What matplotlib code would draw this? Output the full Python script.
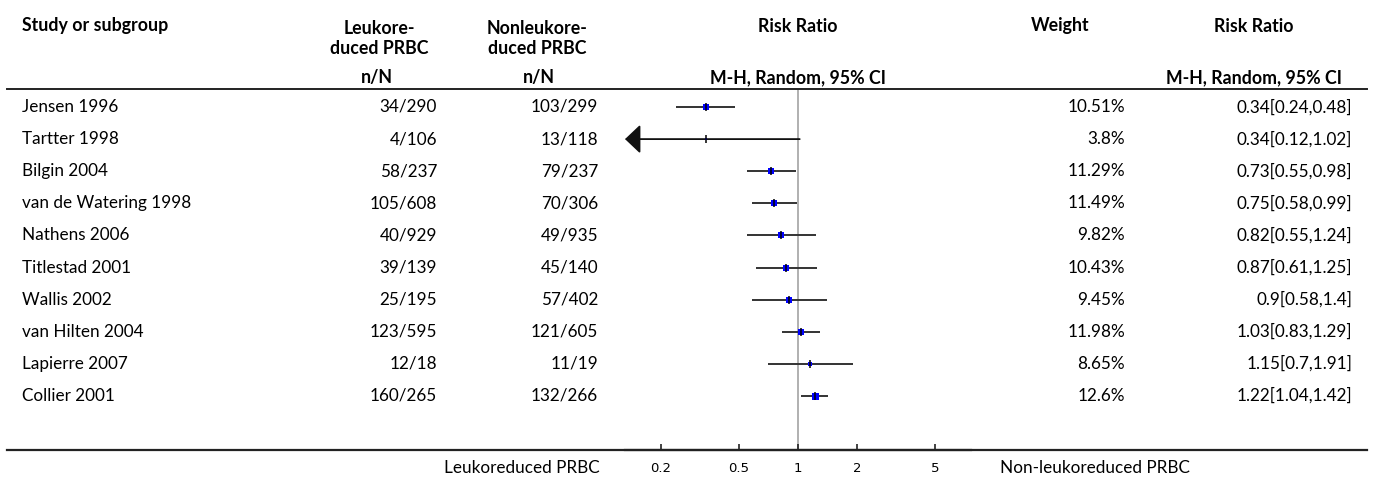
import numpy as np
import matplotlib.pyplot as plt
import matplotlib.transforms as mtransforms
from matplotlib.lines import Line2D
from matplotlib.patches import FancyArrowPatch

plt.rcParams['font.family'] = ['Lato', 'DejaVu Sans']

#--study data
studies = ['Jensen 1996', 'Tartter 1998', 'Bilgin 2004', 'van de Watering 1998',
           'Nathens 2006', 'Titlestad 2001', 'Wallis 2002', 'van Hilten 2004',
           'Lapierre 2007', 'Collier 2001']
leuko_n = [34, 4, 58, 105, 40, 39, 25, 123, 12, 160]
leuko_N = [290, 106, 237, 608, 929, 139, 195, 595, 18, 265]
nonleuko_n = [103, 13, 79, 70, 49, 45, 57, 121, 11, 132]
nonleuko_N = [299, 118, 237, 306, 935, 140, 402, 605, 19, 266]
weights = [10.51, 3.8, 11.29, 11.49, 9.82, 10.43, 9.45, 11.98, 8.65, 12.6]
rr = [0.34, 0.34, 0.73, 0.75, 0.82, 0.87, 0.9, 1.03, 1.15, 1.22]
ci_lo = [0.24, 0.12, 0.55, 0.58, 0.55, 0.61, 0.58, 0.83, 0.7, 1.04]
ci_hi = [0.48, 1.02, 0.98, 0.99, 1.24, 1.25, 1.4, 1.29, 1.91, 1.42]
ticks = [0.2, 0.5, 1, 2, 5]

W, H = 1375, 478
fig = plt.figure(figsize=(W / 100, H / 100), dpi=100)

def fx(x):
    return x / W

def fy(y):
    return 1 - y / H

# forest panel sits between the n/N columns and the weight column
ax = fig.add_axes([fx(625), fy(450), fx(971) - fx(625), fy(89) - fy(450)])
ax.set_xscale('log')
ax.set_xlim(0.1312, 7.62)
row_top = 107
row_step = 32.1
ax.set_ylim((450 - row_top) / row_step, (89 - row_top) / row_step)
for s in ['top', 'left', 'right']:
    ax.spines[s].set_visible(False)
ax.spines['bottom'].set_color('#222222')
ax.spines['bottom'].set_linewidth(1.6)
ax.set_yticks([])
ax.set_xticks(ticks)
ax.set_xticklabels([f'{t:g}' for t in ticks], family='DejaVu Sans', fontsize=9.5)
ax.minorticks_off()
ax.tick_params(axis='x', length=0, pad=9)

# short upward tick stubs on the axis line
xtr = ax.get_xaxis_transform()
for t in ticks:
    ax.plot([t, t], [0, 0.018], transform=xtr, color='#222222', lw=1.2,
            solid_capstyle='butt', clip_on=False, zorder=5)

ax.axvline(1, color='#aaaaaa', lw=1.3, zorder=1)

ypos = np.arange(len(studies))
xmin = ax.get_xlim()[0]
for i in range(len(studies)):
    if ci_lo[i] < xmin:
        arr = FancyArrowPatch((ci_hi[i], ypos[i]), (xmin, ypos[i]),
                              arrowstyle='-|>,head_length=0.95,head_width=0.9',
                              mutation_scale=10, lw=1.3, color='#111111',
                              shrinkA=0, shrinkB=0, zorder=2)
        ax.add_patch(arr)
    else:
        ax.plot([ci_lo[i], ci_hi[i]], [ypos[i], ypos[i]], color='#333333',
                lw=1.4, solid_capstyle='butt', zorder=2)
    ax.plot(rr[i], ypos[i], marker='s', color='#0000ff', ms=weights[i] * 0.4,
            mew=0, zorder=3)
    ax.plot(rr[i], ypos[i], marker='|', color='black', ms=6, mew=1.1, zorder=4)

#--table text, rows follow the forest panel's y scale
row_tr = mtransforms.blended_transform_factory(fig.transFigure, ax.transData)
fs = 12.3
for i, name in enumerate(studies):
    fig.text(fx(22), ypos[i], name, transform=row_tr, fontsize=fs, va='center')
    fig.text(fx(437), ypos[i], f'{leuko_n[i]}/{leuko_N[i]}', transform=row_tr,
             fontsize=fs, va='center', ha='right')
    fig.text(fx(598), ypos[i], f'{nonleuko_n[i]}/{nonleuko_N[i]}', transform=row_tr,
             fontsize=fs, va='center', ha='right')
    fig.text(fx(1125), ypos[i], f'{weights[i]:g}%', transform=row_tr,
             fontsize=fs, va='center', ha='right')
    fig.text(fx(1352), ypos[i], f'{rr[i]:g}[{ci_lo[i]:g},{ci_hi[i]:g}]',
             transform=row_tr, fontsize=fs, va='center', ha='right')

#--headers
hd = dict(fontsize=12.8, fontweight='bold', va='center')
fig.text(fx(22), fy(26), 'Study or subgroup', ha='left', **hd)
fig.text(fx(379), fy(29), 'Leukore-', ha='center', **hd)
fig.text(fx(379), fy(48), 'duced PRBC', ha='center', **hd)
fig.text(fx(377), fy(78), 'n/N', ha='center', **hd)
fig.text(fx(537), fy(29), 'Nonleukore-', ha='center', **hd)
fig.text(fx(537), fy(48), 'duced PRBC', ha='center', **hd)
fig.text(fx(539), fy(78), 'n/N', ha='center', **hd)
fig.text(fx(798), fy(26), 'Risk Ratio', ha='center', **hd)
fig.text(fx(798), fy(78), 'M-H, Random, 95% CI', ha='center', **hd)
fig.text(fx(1060), fy(26), 'Weight', ha='center', **hd)
fig.text(fx(1254), fy(26), 'Risk Ratio', ha='center', **hd)
fig.text(fx(1254), fy(78), 'M-H, Random, 95% CI', ha='center', **hd)

#--rules above and below the rows
fig.add_artist(Line2D([fx(7), fx(1367)], [fy(89), fy(89)], color='#222222', lw=1.4))
fig.add_artist(Line2D([fx(7), fx(1367)], [fy(450), fy(450)], color='#222222', lw=1.6))

#--favours labels
fig.text(fx(600), fy(468), 'Leukoreduced PRBC', fontsize=fs, ha='right', va='center')
fig.text(fx(1000), fy(468), 'Non-leukoreduced PRBC', fontsize=fs, ha='left', va='center')

fig.savefig('out.png', dpi=100)
